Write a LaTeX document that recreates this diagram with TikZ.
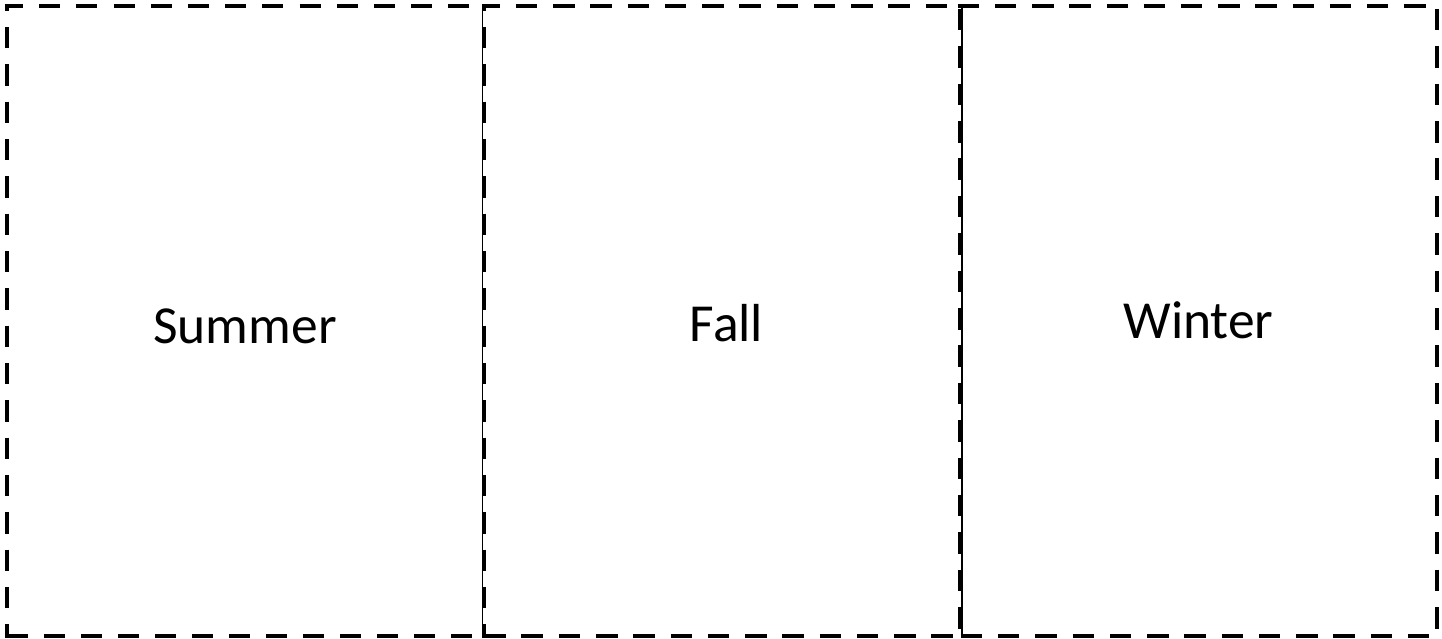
\documentclass[tikz,border=0pt]{standalone}
\usepackage{fontspec}
\setmainfont{Carlito}
\tikzset{
  edge/.style={draw=black, line width=4pt, line cap=butt},
  seam/.style={draw=black, line width=1.4pt},
  season/.style={font=\fontsize{53.5}{60}\selectfont, inner sep=0pt, anchor=base, text=black}
}
\begin{document}
\begin{tikzpicture}[x=1pt,y=-1pt]
\useasboundingbox[fill=white] (0,0) rectangle (1442,639);
% Box 1 (Summer)
\draw[edge, dash pattern=on 21pt off 16.2pt, dash phase=2.5pt] (4.5,6.5) -- (482.3,6.5);
\draw[edge, dash pattern=on 21.3pt off 16.03pt, dash phase=14.8pt] (6.5,4.5) -- (6.5,638);
\draw[edge, dash pattern=on 21pt off 16pt, dash phase=34.5pt] (4.5,636) -- (482.3,636);
\draw[seam] (482.3,4.5) -- (482.3,638);
% Box 2 (Fall)
\draw[edge, dash pattern=on 21.5pt off 15.77pt, dash phase=3.2pt] (481.7,6.5) -- (958,6.5);
\draw[edge, dash pattern=on 21.3pt off 16.03pt, dash phase=14.8pt] (484.2,4.5) -- (484.2,638);
\draw[edge, dash pattern=on 21.5pt off 15.875pt, dash phase=32.875pt] (960.2,4.5) -- (960.2,638);
\draw[edge, dash pattern=on 21.5pt off 15.77pt] (484.2,636) -- (958,636);
% Box 3 (Winter)
\draw[edge, dash pattern=on 21.5pt off 15.7pt] (957.7,6.5) -- (1438.5,6.5);
\draw[edge, dash pattern=on 21.5pt off 15.875pt, dash phase=32.875pt] (1436.5,4.5) -- (1436.5,638);
\draw[edge, dash pattern=on 21.5pt off 15.77pt] (960.7,636) -- (1438.5,636);
\draw[seam] (961.8,4.5) -- (961.8,638);
% Labels
\node[season] (summer) at (245,343) {Summer};
\node[season] (fall) at (726.5,341.7) {Fall};
\node[season] (winter) at (1198.5,338) {Winter};
\end{tikzpicture}
\end{document}
